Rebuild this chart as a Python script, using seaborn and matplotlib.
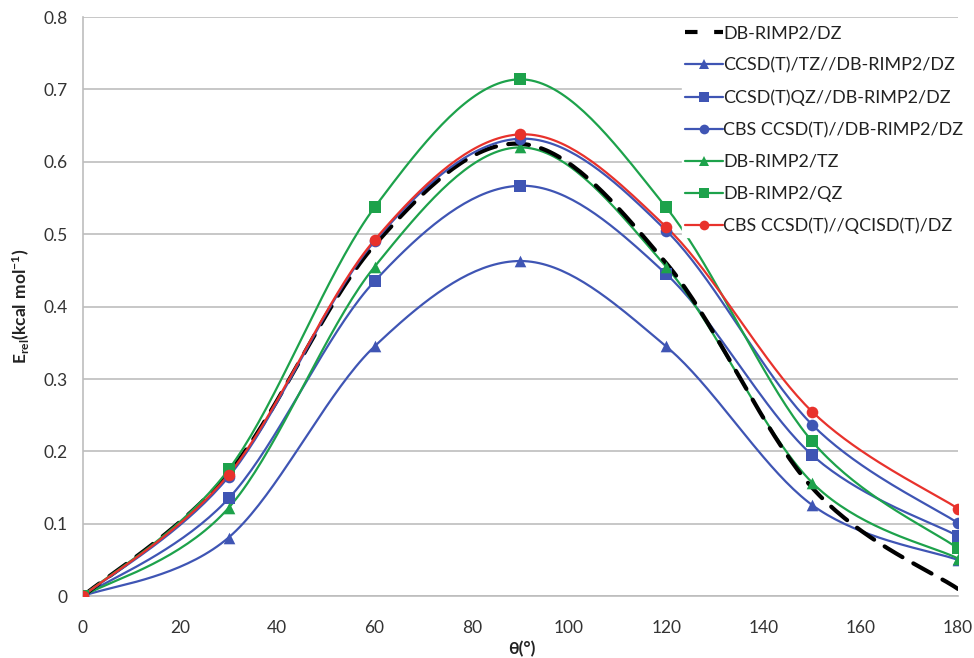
import numpy as np
import pandas as pd
import matplotlib
matplotlib.use("Agg")
import matplotlib.pyplot as plt
from matplotlib.lines import Line2D
import seaborn as sns

# Torsion angles (degrees)
theta = [0, 30, 60, 90, 120, 150, 180]

# Relative energies (kcal/mol) for each level of theory
db_rimp2_dz = [0.0, 0.170, 0.485, 0.625, 0.460, 0.150, 0.010]
ccsdt_tz = [0.0, 0.081, 0.345, 0.463, 0.345, 0.126, 0.050]
ccsdt_qz = [0.0, 0.135, 0.435, 0.567, 0.445, 0.195, 0.083]
cbs_ccsdt_dbrimp2 = [0.0, 0.165, 0.490, 0.632, 0.505, 0.237, 0.101]
db_rimp2_tz = [0.0, 0.122, 0.455, 0.620, 0.455, 0.157, 0.052]
db_rimp2_qz = [0.0, 0.175, 0.537, 0.714, 0.537, 0.214, 0.066]
cbs_ccsdt_qcisdt = [0.0, 0.168, 0.492, 0.638, 0.510, 0.255, 0.121]

labels = [
    "DB-RIMP2/DZ",
    "CCSD(T)/TZ//DB-RIMP2/DZ",
    "CCSD(T)QZ//DB-RIMP2/DZ",
    "CBS CCSD(T)//DB-RIMP2/DZ",
    "DB-RIMP2/TZ",
    "DB-RIMP2/QZ",
    "CBS CCSD(T)//QCISD(T)/DZ",
]
values = [db_rimp2_dz, ccsdt_tz, ccsdt_qz, cbs_ccsdt_dbrimp2,
          db_rimp2_tz, db_rimp2_qz, cbs_ccsdt_qcisdt]

BLUE = "#3F55B4"
GREEN = "#1DA24B"
RED = "#E8322C"
styles = [
    dict(color="black", marker=None, lw=3.0, dashes=(5, 3)),
    dict(color=BLUE, marker="^", lw=1.6, dashes=None),
    dict(color=BLUE, marker="s", lw=1.6, dashes=None),
    dict(color=BLUE, marker="o", lw=1.6, dashes=None),
    dict(color=GREEN, marker="^", lw=1.6, dashes=None),
    dict(color=GREEN, marker="s", lw=1.6, dashes=None),
    dict(color=RED, marker="o", lw=1.6, dashes=None),
]
draw_order = [1, 2, 4, 0, 3, 5, 6]


def smooth(xs, ys, n=40):
    """Bezier smoothing through the points (spreadsheet-style smoothed line)."""
    xs = np.asarray(xs, float)
    ys = np.asarray(ys, float)
    pts = np.column_stack([xs, ys])
    out = []
    m = len(pts)
    t = np.linspace(0, 1, n)[:, None]
    for i in range(m - 1):
        p0 = pts[max(i - 1, 0)]
        p1 = pts[i]
        p2 = pts[i + 1]
        p3 = pts[min(i + 2, m - 1)]
        c1 = p1 + (p2 - p0) / 6.0
        c2 = p2 - (p3 - p1) / 6.0
        seg = ((1 - t) ** 3) * p1 + 3 * ((1 - t) ** 2) * t * c1 \
            + 3 * (1 - t) * t ** 2 * c2 + t ** 3 * p2
        if i > 0:
            seg = seg[1:]
        out.append(seg)
    out = np.vstack(out)
    return out[:, 0], out[:, 1]


sns.set_theme(style="white")
plt.rcParams["font.family"] = ["Lato", "DejaVu Sans"]
plt.rcParams["mathtext.fontset"] = "custom"
plt.rcParams["mathtext.rm"] = "Lato:bold"
plt.rcParams["mathtext.bf"] = "Lato:bold"
plt.rcParams["mathtext.fallback"] = "stixsans"

fig = plt.figure(figsize=(9.74, 6.58), dpi=100)
ax = fig.add_axes([0.085, 0.094, 0.8985, 0.880])

for idx in draw_order:
    st = styles[idx]
    sx, sy = smooth(theta, values[idx])
    curve = pd.DataFrame({"theta": sx, "E": sy})
    kw = dict(color=st["color"], linewidth=st["lw"], ax=ax, sort=False,
              estimator=None, zorder=3)
    line = sns.lineplot(data=curve, x="theta", y="E", **kw)
    if st["dashes"] is not None:
        line.lines[-1].set_dashes(st["dashes"])
        line.lines[-1].set_dash_capstyle("round")
    if st["marker"] is not None:
        pts = pd.DataFrame({"theta": theta, "E": values[idx]})
        sns.scatterplot(data=pts, x="theta", y="E", ax=ax, color=st["color"],
                        marker=st["marker"], s=70, edgecolor=st["color"],
                        linewidth=0, zorder=4)

ax.set_xlim(0, 180)
ax.set_ylim(0, 0.8)
ax.set_xticks(np.arange(0, 181, 20))
ax.set_yticks(np.arange(0, 0.81, 0.1))
ax.set_yticklabels(["0"] + [f"{v:.1f}" for v in np.arange(0.1, 0.81, 0.1)])
ax.yaxis.grid(True, color="#BDBDBD", linewidth=1.2)
ax.xaxis.grid(False)
for side in ["top", "right"]:
    ax.spines[side].set_visible(False)
for side in ["left", "bottom"]:
    ax.spines[side].set_color("#BDBDBD")
    ax.spines[side].set_linewidth(1.2)
ax.tick_params(axis="both", which="both", direction="out", length=5,
               width=1.0, color="#BDBDBD", labelsize=12.5, labelcolor="#333333")
ax.tick_params(axis="x", pad=12)
ax.tick_params(axis="y", pad=6)
ax.set_xlabel("θ(°)", fontsize=12.5, fontweight="bold", color="#222222")
ax.set_ylabel(r"$\mathrm{E_{rel}(kcal\ mol^{-1})}$",
              fontsize=12.5, color="#222222")
ax.xaxis.set_label_coords(0.502, -0.078)
ax.yaxis.set_label_coords(-0.058, 0.5)

handles = []
for st, lab in zip(styles, labels):
    h = Line2D([0], [0], color=st["color"], lw=st["lw"] if st["dashes"] is None else 3.0,
               marker=st["marker"] if st["marker"] else None, markersize=7,
               markeredgewidth=0)
    if st["dashes"] is not None:
        h.set_dashes((3, 4))
    handles.append(h)

leg = ax.legend(handles, labels, loc="upper left", bbox_to_anchor=(0.685, 0.99),
                frameon=True, fontsize=13, handlelength=2.1, handletextpad=0.0,
                labelspacing=0.88, borderaxespad=0, borderpad=0.15)
leg.get_frame().set_facecolor("white")
leg.get_frame().set_edgecolor("white")
leg.get_frame().set_alpha(1.0)
leg.set_zorder(10)
for t in leg.get_texts():
    t.set_color("#222222")

fig.savefig("out.png", dpi=100, facecolor="white")
